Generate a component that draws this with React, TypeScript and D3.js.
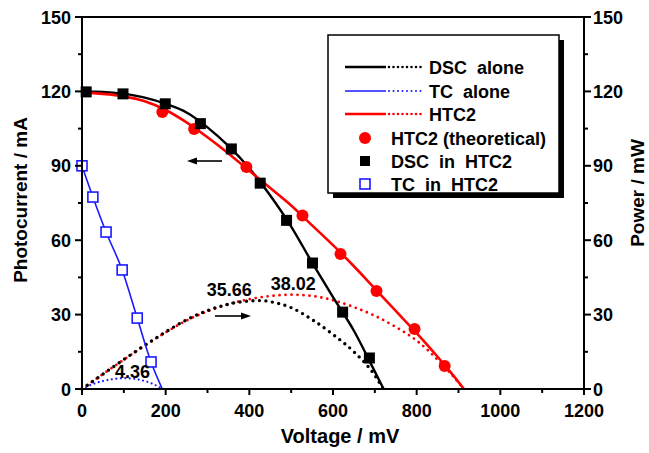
import React from "react";
import * as d3 from "d3";

// ---- data ----
const xTicks = [0, 200, 400, 600, 800, 1000, 1200];
const yTicks = [0, 30, 60, 90, 120, 150];

// DSC in HTC2 I-V (black solid line)
const dscLineV = [0, 50, 100, 150, 200, 250, 300, 350, 400, 450, 500, 550, 600, 650, 700, 721];
const dscLineI = [120, 119.8, 119, 117.5, 115, 111.5, 105.5, 98, 89, 78, 65.5, 51, 37, 23.5, 7, 0];
// DSC in HTC2 markers
const dscMarkV = [10, 98, 199, 283, 357, 426, 489, 551, 623, 687];
const dscMarkI = [119.8, 119, 115, 107, 96.8, 83, 68, 50.8, 31, 12.5];
// DSC alone power (black dotted)
const dscPowV = [0, 50, 100, 150, 200, 250, 300, 350, 400, 430, 450, 500, 550, 600, 650, 700, 720];
const dscPowP = [0, 6, 11.9, 17.6, 23, 27.9, 31.6, 34.2, 35.5, 35.66, 35.2, 32.8, 28, 22, 15, 5.5, 0];

// HTC2 I-V (red solid)
const htcLineV = [0, 50, 100, 150, 200, 250, 300, 350, 400, 450, 500, 550, 600, 650, 700, 750, 800, 850, 880, 913];
const htcLineI = [119.5, 119, 118, 116, 112.5, 107.5, 101.5, 95, 88, 81, 74, 66, 58, 49.5, 40.5, 31.5, 22.5, 13, 7, 0];
// HTC2 theoretical markers
const htcMarkV = [192, 268, 393, 527, 618, 704, 795, 867];
const htcMarkI = [111.7, 104.8, 89.5, 70, 54.4, 39.5, 24.2, 9.3];
// HTC2 power (red dotted)
const htcPowV = [0, 50, 100, 150, 200, 250, 300, 350, 400, 450, 500, 550, 600, 650, 700, 750, 800, 850, 880, 913];
const htcPowP = [0, 6, 11.8, 17.5, 22.8, 27.6, 31.3, 34.2, 36.2, 37.5, 38.02, 37.5, 35.8, 33, 29.5, 25, 19.5, 11.8, 6.5, 0];

// TC in HTC2 I-V (blue solid) and markers
const tcLineV = [0, 26, 57.5, 96, 132, 165, 192];
const tcLineI = [90, 77.4, 63.3, 48, 28.6, 10.9, 0];
const tcMarkV = [0, 26, 57.5, 96, 132, 165];
const tcMarkI = [90, 77.4, 63.3, 48, 28.6, 10.9];
// TC alone power (blue dotted)
const tcPowV = [0, 25, 50, 75, 100, 125, 150, 170, 192];
const tcPowP = [0, 1.9, 3.2, 4.0, 4.36, 4.1, 3.2, 2.0, 0];

const legendLabels = ["DSC  alone", "TC  alone", "HTC2", "HTC2 (theoretical)", "DSC  in  HTC2", "TC  in  HTC2"];

const W = 649, H = 453;
const M = { left: 82, right: 584, top: 17, bottom: 389 };
const FONT = "'Liberation Sans', Arial, Helvetica, sans-serif";

export default function App() {
  const x = d3.scaleLinear().domain([0, 1200]).range([M.left, M.right]);
  const y = d3.scaleLinear().domain([0, 150]).range([M.bottom, M.top]);
  const line = (vs: number[], is: number[]) =>
    d3.line<number>().x((_, k) => x(vs[k])).y((_, k) => y(is[k])).curve(d3.curveMonotoneX)(vs) || "";

  const xMinor = d3.range(100, 1200, 200);
  const yMinor = d3.range(15, 150, 30);

  const lg = { x: 328, y: 35, w: 231, h: 158 };
  const rowY = [67, 91, 114, 138, 161, 184];
  const lineCols = ["#000", "#1a1aff", "#ff0000"];

  return (
    <svg width={W} height={H} style={{ position: "absolute", left: 0, top: 0, background: "#fff" }}
      fontFamily={FONT} fontWeight="bold">
      {/* power curves (dotted) */}
      <path d={line(tcPowV, tcPowP)} fill="none" stroke="#1a1aff" strokeWidth={2.2} strokeDasharray="0 4.5" strokeLinecap="round" />
      <path d={line(htcPowV, htcPowP)} fill="none" stroke="#ff0000" strokeWidth={2.8} strokeDasharray="0 6" strokeLinecap="round" />
      <path d={line(dscPowV, dscPowP)} fill="none" stroke="#000" strokeWidth={3.4} strokeDasharray="0 6.5" strokeLinecap="round" />

      {/* IV curves */}
      <path d={line(tcLineV, tcLineI)} fill="none" stroke="#1a1aff" strokeWidth={1.6} />
      <path d={line(dscLineV, dscLineI)} fill="none" stroke="#000" strokeWidth={2.4} />
      <path d={line(htcLineV, htcLineI)} fill="none" stroke="#ff0000" strokeWidth={2.6} />

      {/* markers */}
      {htcMarkV.map((v, k) => (
        <circle key={"h" + k} cx={x(v)} cy={y(htcMarkI[k])} r={6} fill="#ff0000" />
      ))}
      {dscMarkV.map((v, k) => (
        <rect key={"d" + k} x={x(v) - 5.5} y={y(dscMarkI[k]) - 5.5} width={11} height={11} fill="#000" />
      ))}
      {tcMarkV.map((v, k) => (
        <rect key={"t" + k} x={x(v) - 5} y={y(tcMarkI[k]) - 5} width={10} height={10} fill="#fff" stroke="#1a1aff" strokeWidth={1.6} />
      ))}

      {/* annotations */}
      <text x={x(352)} y={y(37.3)} fontSize={18} textAnchor="middle">35.66</text>
      <text x={x(505)} y={y(40)} fontSize={18} textAnchor="middle">38.02</text>
      <text x={x(121)} y={y(4.5)} fontSize={18} textAnchor="middle">4.36</text>

      {/* arrows */}
      <line x1={222} y1={161} x2={194} y2={161} stroke="#000" strokeWidth={1.6} />
      <path d="M187,161 L197,157.5 L197,164.5 Z" fill="#000" />
      <line x1={215} y1={316} x2={243} y2={316} stroke="#000" strokeWidth={1.6} />
      <path d="M251,316 L241,312.5 L241,319.5 Z" fill="#000" />

      {/* frame */}
      <rect x={M.left} y={M.top} width={M.right - M.left} height={M.bottom - M.top} fill="none" stroke="#000" strokeWidth={2} />

      {/* bottom axis ticks */}
      {xTicks.map((t) => (
        <g key={"xt" + t}>
          <line x1={x(t)} x2={x(t)} y1={M.bottom} y2={M.bottom + 6} stroke="#000" strokeWidth={2} />
          <text x={x(t)} y={M.bottom + 28} fontSize={18} textAnchor="middle">{t}</text>
        </g>
      ))}
      {xMinor.map((t) => (
        <line key={"xm" + t} x1={x(t)} x2={x(t)} y1={M.bottom} y2={M.bottom + 4} stroke="#000" strokeWidth={2} />
      ))}
      {/* left / right ticks */}
      {yTicks.map((t) => (
        <g key={"yt" + t}>
          <line x1={M.left - 7} x2={M.left} y1={y(t)} y2={y(t)} stroke="#000" strokeWidth={2} />
          <text x={M.left - 11} y={y(t) + 6.5} fontSize={18} textAnchor="end">{t}</text>
          <line x1={M.right} x2={M.right + 7} y1={y(t)} y2={y(t)} stroke="#000" strokeWidth={2} />
          <text x={M.right + 9} y={y(t) + 6.5} fontSize={18} textAnchor="start">{t}</text>
        </g>
      ))}
      {yMinor.map((t) => (
        <g key={"ym" + t}>
          <line x1={M.left - 4} x2={M.left} y1={y(t)} y2={y(t)} stroke="#000" strokeWidth={2} />
          <line x1={M.right} x2={M.right + 4} y1={y(t)} y2={y(t)} stroke="#000" strokeWidth={2} />
        </g>
      ))}

      {/* axis titles */}
      <text x={340} y={443} fontSize={20} textAnchor="middle">Voltage / mV</text>
      <text transform={`translate(27,200) rotate(-90)`} fontSize={19} textAnchor="middle">Photocurrent / mA</text>
      <text transform={`translate(644,193) rotate(-90)`} fontSize={19} textAnchor="middle">Power / mW</text>

      {/* legend */}
      <rect x={lg.x + 5} y={lg.y + 5} width={lg.w} height={lg.h} fill="#000" />
      <rect x={lg.x} y={lg.y} width={lg.w} height={lg.h} fill="#fff" stroke="#000" strokeWidth={1.5} />
      {lineCols.map((c, k) => (
        <g key={"ll" + k}>
          <line x1={345} x2={386} y1={rowY[k]} y2={rowY[k]} stroke={c} strokeWidth={k === 1 ? 1.5 : 2.4} />
          <line x1={389} x2={425} y1={rowY[k]} y2={rowY[k]} stroke={c} strokeWidth={k === 1 ? 2 : 2.6}
            strokeDasharray="0 4.5" strokeLinecap="round" />
          <text x={429} y={rowY[k] + 6.5} fontSize={18} style={{ whiteSpace: "pre" }}>{legendLabels[k]}</text>
        </g>
      ))}
      <circle cx={365} cy={rowY[3]} r={6} fill="#ff0000" />
      <rect x={360} y={rowY[4] - 5} width={10} height={10} fill="#000" />
      <rect x={360} y={rowY[5] - 5} width={10} height={10} fill="#fff" stroke="#1a1aff" strokeWidth={1.6} />
      {[3, 4, 5].map((k) => (
        <text key={"lt" + k} x={391} y={rowY[k] + 6.5} fontSize={18} style={{ whiteSpace: "pre" }}>{legendLabels[k]}</text>
      ))}
    </svg>
  );
}
